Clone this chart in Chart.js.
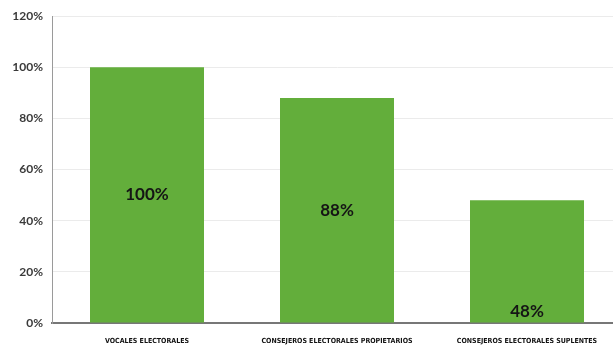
<!DOCTYPE html>
<html>
<head>
<meta charset="utf-8">
<script src="https://cdn.jsdelivr.net/npm/chart.js@4.4.1/dist/chart.umd.min.js"></script>
<style>
  html, body { margin: 0; padding: 0; background: #fff; overflow: hidden; }
  #wrap { width: 622px; height: 348px; }
</style>
</head>
<body>
<div id="wrap"><canvas id="barras"></canvas></div>
<script>
// datos del grafico
const categorias = ['VOCALES ELECTORALES', 'CONSEJEROS ELECTORALES PROPIETARIOS', 'CONSEJEROS ELECTORALES SUPLENTES'];
const porcentajes = [100, 88, 48];
const etiquetasEje = ['0%', '20%', '40%', '60%', '80%', '100%', '120%'];
const anclaEtiqueta = ['middle', 'middle', 'bottom'];

// dibuja el porcentaje dentro de cada barra
const etiquetasBarras = {
  id: 'etiquetasBarras',
  afterDatasetsDraw(chart) {
    const ctx = chart.ctx;
    const meta = chart.getDatasetMeta(0);
    ctx.save();
    ctx.font = 'bold 17px Lato, "Open Sans", sans-serif';
    ctx.fillStyle = '#151515';
    ctx.textAlign = 'center';
    ctx.textBaseline = 'middle';
    meta.data.forEach((bar, i) => {
      let y = (bar.y + bar.base) / 2;
      if (anclaEtiqueta[i] === 'bottom') y = bar.base - 11;
      ctx.fillText(porcentajes[i] + '%', bar.x, y);
    });
    ctx.restore();
  }
};

new Chart(document.getElementById('barras'), {
  type: 'bar',
  data: {
    labels: categorias,
    datasets: [{
      data: porcentajes,
      backgroundColor: '#63ae3b',
      categoryPercentage: 1,
      barPercentage: 0.6
    }]
  },
  options: {
    responsive: true,
    maintainAspectRatio: false,
    animation: false,
    layout: { padding: { top: 15, right: 0, left: 0, bottom: 0 } },
    plugins: { legend: { display: false }, tooltip: { enabled: false } },
    scales: {
      x: {
        grid: { display: false },
        border: { display: true, color: '#777777', width: 2 },
        ticks: {
          color: '#111111',
          padding: 6,
          maxRotation: 0,
          autoSkip: false,
          font: { family: '"DejaVu Sans Condensed", "DejaVu Sans", sans-serif', size: 7, weight: 'bold' }
        },
        afterFit(scale) { scale.height = 25; }
      },
      y: {
        min: 0,
        max: 120,
        grid: { color: '#ebebeb', drawTicks: false },
        border: { display: true, color: '#9a9a9a', width: 1 },
        ticks: {
          stepSize: 20,
          padding: 9,
          color: '#3a3a3a',
          font: { family: 'Lato, "Open Sans", sans-serif', size: 12, weight: 'bold' },
          callback: (v) => etiquetasEje[v / 20]
        },
        afterFit(scale) { scale.width = 52; }
      }
    }
  },
  plugins: [etiquetasBarras]
});
</script>
</body>
</html>
